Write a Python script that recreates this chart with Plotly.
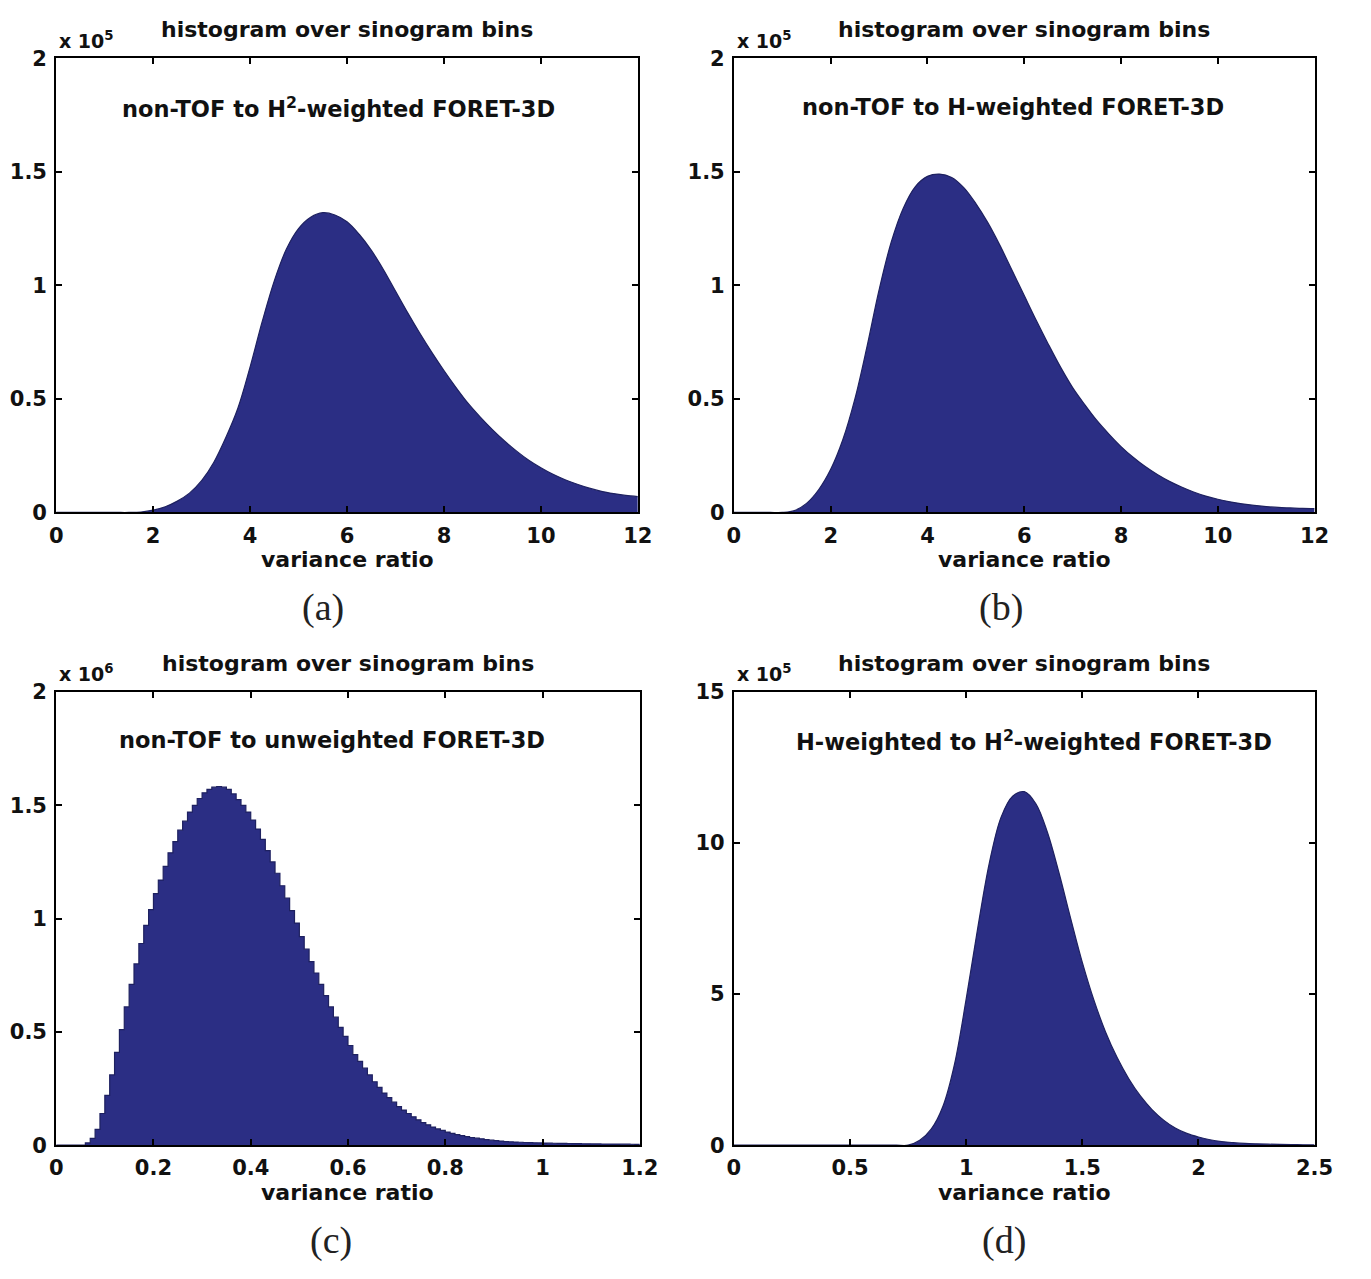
import plotly.graph_objects as go

# page is 1371x1279; the html body keeps an 8px margin, so the figure is made to fit inside it
PAGE_W, PAGE_H = 1371, 1279
OFF = 8
W, H = PAGE_W - 2 * OFF, PAGE_H - 2 * OFF
FILL = "#2B2E84"
EDGE = "#1E2160"
TXT = "#111111"
SANS = "DejaVu Sans"

# ---------------- data ----------------
# (a) non-TOF to H^2-weighted FORET-3D, counts in units of 1e5, sampled every 0.25
a_ratio = [i * 0.25 for i in range(49)]
a_counts_e5 = [0, 0, 0, 0, 0, 0, 0, 0.002, 0.01, 0.025, 0.05, 0.085, 0.14, 0.22, 0.33, 0.46,
               0.64, 0.84, 1.02, 1.16, 1.25, 1.30, 1.32, 1.31, 1.28, 1.225, 1.155, 1.07, 0.975,
               0.88, 0.79, 0.705, 0.625, 0.55, 0.48, 0.42, 0.365, 0.315, 0.27, 0.23, 0.197,
               0.168, 0.144, 0.124, 0.107, 0.093, 0.083, 0.075, 0.07]

# (b) non-TOF to H-weighted FORET-3D, counts in units of 1e5, sampled every 0.25
b_ratio = [i * 0.25 for i in range(49)]
b_counts_e5 = [0, 0, 0, 0, 0, 0.008, 0.04, 0.10, 0.19, 0.32, 0.50, 0.73, 0.98, 1.19, 1.34,
               1.435, 1.48, 1.49, 1.475, 1.43, 1.36, 1.275, 1.175, 1.065, 0.955, 0.845, 0.74,
               0.64, 0.55, 0.475, 0.405, 0.345, 0.29, 0.243, 0.202, 0.167, 0.137, 0.112, 0.09,
               0.072, 0.058, 0.047, 0.038, 0.031, 0.026, 0.022, 0.02, 0.018, 0.017]

# (c) non-TOF to unweighted FORET-3D, histogram bins of width 0.01, counts in units of 1e6
c_bin_width = 0.01
c_counts_e6 = [0, 0, 0, 0, 0, 0,
               0.01, 0.03, 0.07, 0.14, 0.22, 0.31, 0.41, 0.51, 0.61, 0.71,
               0.80, 0.89, 0.97, 1.04, 1.11, 1.17, 1.23, 1.29, 1.34, 1.39,
               1.43, 1.47, 1.50, 1.53, 1.555, 1.57, 1.58, 1.583, 1.58, 1.57,
               1.55, 1.525, 1.50, 1.47, 1.435, 1.395, 1.35, 1.30, 1.25, 1.20,
               1.145, 1.09, 1.035, 0.98, 0.92, 0.865, 0.81, 0.76, 0.71, 0.66,
               0.61, 0.565, 0.52, 0.48, 0.44, 0.40, 0.37, 0.34, 0.31, 0.28,
               0.255, 0.23, 0.21, 0.19, 0.17, 0.155, 0.14, 0.125, 0.112, 0.10,
               0.09, 0.08, 0.072, 0.065, 0.058, 0.052, 0.047, 0.042, 0.038, 0.034,
               0.031, 0.028, 0.025, 0.022, 0.020, 0.018, 0.016, 0.015, 0.014, 0.013,
               0.012, 0.011, 0.0105, 0.010, 0.0095, 0.009, 0.0085, 0.008, 0.0077, 0.0074,
               0.007, 0.0067, 0.0064, 0.006, 0.0058, 0.0056, 0.0054, 0.0052, 0.005, 0.0048,
               0.0046, 0.0044, 0.0042, 0.004]

# (d) H-weighted to H^2-weighted FORET-3D, counts in units of 1e5, sampled every 0.05
d_ratio = [i * 0.05 for i in range(51)]
d_counts_e5 = [0, 0, 0, 0, 0, 0, 0, 0, 0, 0, 0, 0, 0, 0, 0, 0,
               0.16, 0.54, 1.29, 2.69, 4.84, 7.2, 9.35, 10.85, 11.55, 11.7, 11.3, 10.35, 9.0,
               7.5, 6.05, 4.8, 3.75, 2.90, 2.20, 1.63, 1.18, 0.83, 0.57, 0.39, 0.27, 0.18,
               0.12, 0.085, 0.06, 0.045, 0.034, 0.026, 0.02, 0.015, 0.01]

x_ticks_ab = [0, 2, 4, 6, 8, 10, 12]
x_ticks_c = [0, 0.2, 0.4, 0.6, 0.8, 1, 1.2]
x_ticks_d = [0, 0.5, 1, 1.5, 2, 2.5]
y_tick_text_abc = ["0", "0.5", "1", "1.5", "2"]
y_tick_text_d = ["0", "5", "10", "15"]

panel_titles = ["histogram over sinogram bins"] * 4
panel_notes = ["non-TOF to H<sup>2</sup>-weighted FORET-3D",
               "non-TOF to H-weighted FORET-3D",
               "non-TOF to unweighted FORET-3D",
               "H-weighted to H<sup>2</sup>-weighted FORET-3D"]
exponents = ["x 10<sup>5</sup>", "x 10<sup>5</sup>", "x 10<sup>6</sup>", "x 10<sup>5</sup>"]
panel_letters = ["(a)", "(b)", "(c)", "(d)"]
x_label = "variance ratio"

# ---------------- layout geometry (page pixels) ----------------
boxes = {  # left, right, top, bottom
    "a": (50, 643, 47, 510),
    "b": (741, 1333, 47, 510),
    "c": (50, 645, 693, 1155),
    "d": (741, 1333, 693, 1155),
}


def px(x):
    return (x - OFF) / W


def py(y):
    return 1 - (y - OFF) / H


fig = go.Figure()

c_edges = [i * c_bin_width for i in range(len(c_counts_e6))]
c_x = c_edges + [len(c_counts_e6) * c_bin_width]
c_y = [v * 1e6 for v in c_counts_e6] + [c_counts_e6[-1] * 1e6]

common_line = dict(color=EDGE, width=1.2)
smooth = dict(shape="spline", smoothing=1.0)

for xs, ys, ax, ln in [(a_ratio, [v * 1e5 for v in a_counts_e5], "", smooth),
                       (b_ratio, [v * 1e5 for v in b_counts_e5], "2", smooth),
                       (c_x, c_y, "3", dict(shape="hv")),
                       (d_ratio, [v * 1e5 for v in d_counts_e5], "4", smooth)]:
    fig.add_trace(go.Scatter(x=xs, y=ys, mode="lines", line=dict(**common_line, **ln),
                             fill="tozeroy", fillcolor=FILL, xaxis="x" + ax, yaxis="y" + ax,
                             showlegend=False, hoverinfo="skip"))

tickfont = dict(family=SANS, size=21, color=TXT, weight="bold")
axis_common = dict(showline=True, linecolor="black", linewidth=2, mirror="ticks",
                   ticks="inside", ticklen=6, tickwidth=1.5, tickcolor="black",
                   showgrid=False, zeroline=False, tickfont=tickfont)

layout = dict(width=W, height=H, margin=dict(l=0, r=0, t=0, b=0),
              paper_bgcolor="white", plot_bgcolor="white", showlegend=False)

specs = [
    ("a", "", x_ticks_ab, [0, 12], [0, 2e5], [0, 0.5e5, 1e5, 1.5e5, 2e5], y_tick_text_abc),
    ("b", "2", x_ticks_ab, [0, 12], [0, 2e5], [0, 0.5e5, 1e5, 1.5e5, 2e5], y_tick_text_abc),
    ("c", "3", x_ticks_c, [0, 1.2], [0, 2e6], [0, 0.5e6, 1e6, 1.5e6, 2e6], y_tick_text_abc),
    ("d", "4", x_ticks_d, [0, 2.5], [0, 15e5], [0, 5e5, 10e5, 15e5], y_tick_text_d),
]

for key, sfx, xt, xr, yr, yt, ytt in specs:
    l, r, t, b = boxes[key]
    layout["xaxis" + sfx] = dict(axis_common, domain=[px(l), px(r)], range=xr,
                                 tickvals=xt, ticktext=[f"{v:g}" for v in xt],
                                 anchor="y" + sfx, ticklabelstandoff=3)
    layout["yaxis" + sfx] = dict(axis_common, domain=[py(b), py(t)], range=yr,
                                 tickvals=yt, ticktext=ytt,
                                 anchor="x" + sfx, ticklabelstandoff=3)

fig.update_layout(**layout)

ann = []
for i, key in enumerate(["a", "b", "c", "d"]):
    l, r, t, b = boxes[key]
    cx = (l + r) / 2
    ann.append(dict(text=panel_titles[i], x=px(cx), y=py(t - 29), xref="paper", yref="paper",
                    showarrow=False, xanchor="center", yanchor="middle",
                    font=dict(family=SANS, size=22, color=TXT, weight="bold")))
    ann.append(dict(text=exponents[i], x=px(l + 1), y=py(t - 19), xref="paper", yref="paper",
                    showarrow=False, xanchor="left", yanchor="middle",
                    font=dict(family=SANS, size=19, color=TXT, weight="bold")))
    ann.append(dict(text=x_label, x=px(cx), y=py(b + 48), xref="paper", yref="paper",
                    showarrow=False, xanchor="center", yanchor="middle",
                    font=dict(family=SANS, size=22, color=TXT, weight="bold")))

note_centres = [(338, 97), (1026, 97), (331, 742), (1047, 742)]
letter_centres = [(322, 607), (1013, 607), (330, 1252), (1016, 1252)]
for i in range(4):
    nx, ny = note_centres[i]
    ann.append(dict(text=panel_notes[i], x=px(nx), y=py(ny), xref="paper", yref="paper",
                    showarrow=False, xanchor="center", yanchor="middle",
                    font=dict(family=SANS, size=22.5, color=TXT, weight="bold")))
    lx, ly = letter_centres[i]
    ann.append(dict(text=panel_letters[i], x=px(lx), y=py(ly), xref="paper", yref="paper",
                    showarrow=False, xanchor="center", yanchor="middle",
                    font=dict(family="Liberation Serif", size=38, color="#222222")))

fig.update_layout(annotations=ann)
fig.write_html("out.html")
